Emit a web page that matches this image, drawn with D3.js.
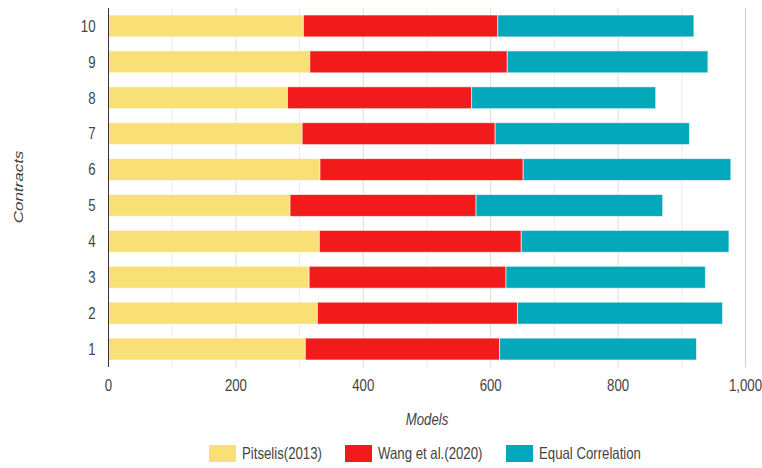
<!DOCTYPE html>
<html><head><meta charset="utf-8">
<script src="https://cdn.jsdelivr.net/npm/d3@7"></script>
<style>body{margin:0;background:#fff}svg{display:block;font-family:"Liberation Sans",Arial,sans-serif}</style>
</head><body><svg id="c" width="762" height="468"></svg>
<script>
const categories = ["1","2","3","4","5","6","7","8","9","10"];
const seriesNames = ["Pitselis(2013)","Wang et al.(2020)","Equal Correlation"];
const pitselis = [309,328,315,331,285,332,304,281,316,306];
const wang     = [305,314,309,317,292,319,303,289,310,305];
const equalCorr= [309,322,313,326,293,326,305,289,315,308];
const xTicks = [0,200,400,600,800,1000];
const colors = ["#f8e076","#f21a1a","#03a9bb"];

const svg = d3.select("#c");
const L = 108.5, R = 745.5, T = 8, B = 367;
const SX = 0.8, FS = 16.5;
const x = d3.scaleLinear().domain([0,1000]).range([L,R]);
const y = d3.scaleBand().domain(categories.slice().reverse()).range([T,B]).paddingInner(0.39).paddingOuter(0.195);

function label(px,py,txt,anchor,extra){
  const t = svg.append("g").attr("transform",`translate(${px},${py}) scale(${SX},1)` + (extra||""))
    .append("text").attr("dy","0.35em").attr("text-anchor",anchor).attr("font-size",FS).attr("fill","#444").text(txt);
  return t;
}

// grid
const g = svg.append("g");
d3.range(100,1000,200).forEach(v=>g.append("line").attr("x1",x(v)).attr("x2",x(v)).attr("y1",T).attr("y2",B).attr("stroke","#ececec").attr("stroke-width",1));
xTicks.slice(1).forEach(v=>g.append("line").attr("x1",x(v)).attr("x2",x(v)).attr("y1",T).attr("y2",B).attr("stroke", v===1000?"#cfcfcf":"#dcdcdc").attr("stroke-width",1));

const data = categories.map((c,i)=>({c, v:[pitselis[i],wang[i],equalCorr[i]]}));
const stack = d3.stack().keys([0,1,2]).value((d,k)=>d.v[k]);
const layers = stack(data);
layers.forEach((layer,k)=>{
  svg.append("g").selectAll("rect").data(layer).join("rect")
    .attr("x",d=>x(d[0])).attr("width",d=>x(d[1])-x(d[0]))
    .attr("y",d=>y(d.data.c)).attr("height",y.bandwidth())
    .attr("fill",colors[k]).attr("stroke","rgba(255,255,255,0.6)").attr("stroke-width",1);
});

// left axis line
svg.append("line").attr("x1",L).attr("x2",L).attr("y1",T).attr("y2",B).attr("stroke","#333").attr("stroke-width",1);

categories.forEach(c=>label(95.5, y(c)+y.bandwidth()/2, c, "end"));
xTicks.forEach(v=>label(x(v), 385.5, d3.format(",")(v), "middle"));

label(427, 419, "Models", "middle").attr("font-style","italic");
label(18, 187, "Contracts", "middle", " rotate(-90)").attr("font-style","italic").attr("font-size",17);

// legend
const lx = [209,345,506];
seriesNames.forEach((n,k)=>{
  svg.append("rect").attr("x",lx[k]).attr("y",445).attr("width",27).attr("height",17).attr("fill",colors[k]);
  label(lx[k]+33, 453.5, n, "start");
});
</script></body></html>
